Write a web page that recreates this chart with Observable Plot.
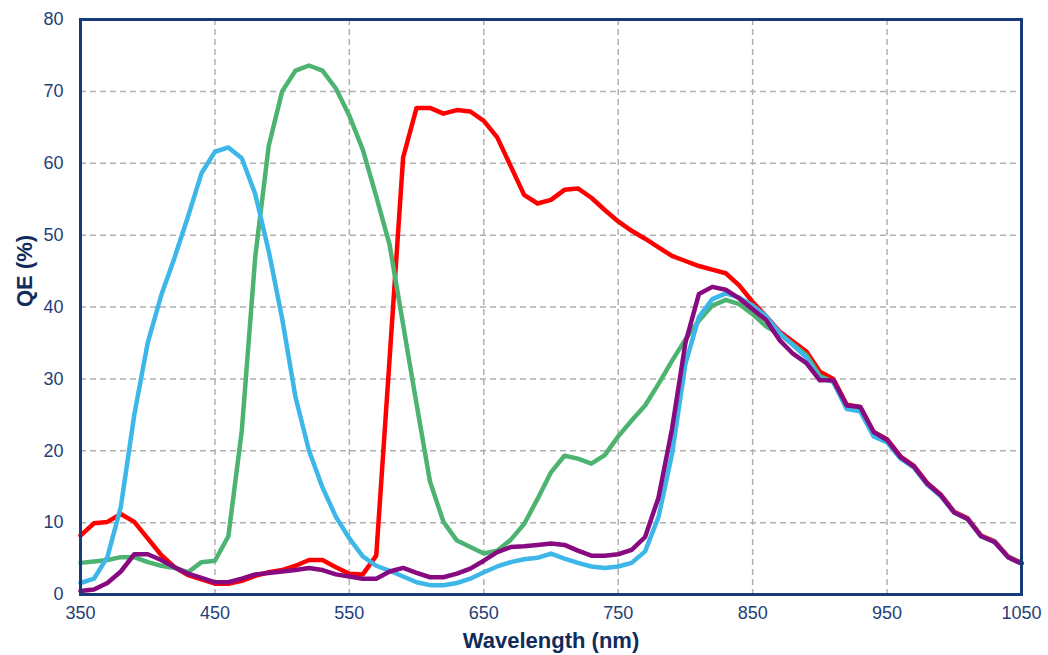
<!DOCTYPE html>
<html>
<head>
<meta charset="utf-8">
<script src="https://cdn.jsdelivr.net/npm/d3@7"></script>
<script src="https://cdn.jsdelivr.net/npm/@observablehq/plot@0.6"></script>
<style>
  html, body { margin: 0; padding: 0; background: #fff; }
  #chart svg { display: block; }
</style>
</head>
<body>
<div id="chart"></div>
<script>
const wavelengths = [350,360,370,380,390,400,410,420,430,440,450,460,470,480,490,500,510,520,530,540,550,560,570,580,590,600,610,620,630,640,650,660,670,680,690,700,710,720,730,740,750,760,770,780,790,800,810,820,830,840,850,860,870,880,890,900,910,920,930,940,950,960,970,980,990,1000,1010,1020,1030,1040,1050];

const red = [8.2,9.9,10.1,11.2,10.1,7.8,5.5,3.8,2.7,2.1,1.5,1.5,1.9,2.6,3.1,3.4,4.0,4.8,4.8,3.8,2.9,2.8,5.4,33,60.8,67.7,67.7,66.9,67.4,67.2,65.9,63.6,59.6,55.6,54.4,54.9,56.3,56.5,55.2,53.5,51.9,50.6,49.5,48.3,47.1,46.4,45.7,45.2,44.7,43.0,40.7,38.7,36.6,35.2,33.8,31.0,30.0,26.4,26.1,22.6,21.6,19.2,17.9,15.5,13.9,11.5,10.6,8.2,7.4,5.3,4.4];

const green = [4.4,4.6,4.8,5.2,5.2,4.5,4.0,3.7,3.1,4.5,4.7,8.1,22.8,47.0,62.4,70.0,72.9,73.6,72.9,70.4,66.6,61.9,55.4,48.6,37.5,26.5,15.7,10.1,7.5,6.6,5.7,6.1,7.6,9.8,13.3,17.0,19.3,18.9,18.2,19.4,22.0,24.2,26.3,29.3,32.5,35.5,38.1,40.2,41.0,40.4,39.0,37.3,36.2,34.8,33.3,30.4,29.6,25.9,25.6,22.1,21.2,19.0,17.7,15.3,13.7,11.4,10.5,8.1,7.3,5.2,4.3];

const blue = [1.6,2.2,5.2,12.2,25.0,35.0,41.6,46.9,52.6,58.6,61.6,62.2,60.7,55.7,47.8,38.4,27.4,20.0,14.9,10.8,7.8,5.3,4.0,3.3,2.5,1.7,1.3,1.3,1.6,2.2,3.1,3.9,4.5,4.9,5.1,5.7,5.0,4.4,3.9,3.7,3.9,4.4,6.0,10.8,19.5,32.1,38.6,41.1,41.9,41.3,40.2,38.7,36.4,34.7,33.0,30.1,29.6,25.8,25.5,22.0,21.2,18.9,17.7,15.3,13.7,11.4,10.5,8.1,7.3,5.2,4.3];

const purple = [0.5,0.7,1.6,3.2,5.6,5.6,4.8,3.8,2.9,2.3,1.7,1.7,2.2,2.8,3.0,3.2,3.4,3.7,3.4,2.8,2.5,2.2,2.2,3.2,3.7,3.0,2.4,2.4,2.9,3.6,4.7,5.9,6.6,6.7,6.9,7.1,6.9,6.1,5.4,5.4,5.6,6.2,8.0,13.5,23.0,35.0,41.8,42.8,42.4,41.2,39.7,38.2,35.4,33.5,32.2,29.8,29.8,26.3,26.1,22.6,21.5,19.1,17.8,15.4,13.8,11.4,10.5,8.1,7.3,5.2,4.3];

const xTicks = [350,450,550,650,750,850,950,1050];
const yTicks = [0,10,20,30,40,50,60,70,80];
const xTitle = "Wavelength (nm)";
const yTitle = "QE (%)";

const series = [
  {name: "red", values: red, color: "#ff0000"},
  {name: "green", values: green, color: "#4cb470"},
  {name: "blue", values: blue, color: "#3db6e8"},
  {name: "purple", values: purple, color: "#880a80"}
];

const toRows = (vals) => wavelengths.map((w, i) => ({w, v: vals[i]}));

const tickColor = "#1f4079";
const titleColor = "#112c5a";
const frameColor = "#173b78";

const chart = Plot.plot({
  width: 1048,
  height: 655,
  marginLeft: 80,
  marginRight: 27,
  marginTop: 19,
  marginBottom: 61,
  style: {fontFamily: "'Liberation Sans', Arial, sans-serif", background: "#fff"},
  x: {domain: [350, 1050]},
  y: {domain: [0, 80]},
  marks: [
    Plot.gridX(xTicks.slice(1, -1), {stroke: "#b0b0b0", strokeOpacity: 1, strokeWidth: 1.5, strokeDasharray: "6,4"}),
    Plot.gridY(yTicks.slice(1, -1), {stroke: "#b0b0b0", strokeOpacity: 1, strokeWidth: 1.5, strokeDasharray: "6,4"}),
    ...series.map(s => Plot.line(toRows(s.values), {x: "w", y: "v", stroke: s.color, strokeWidth: 4.5, strokeLinejoin: "round", strokeLinecap: "round"})),
    Plot.axisX(xTicks, {tickSize: 0, tickPadding: 12, fontSize: 18, fill: tickColor, label: null, tickFormat: d => String(d)}),
    Plot.axisY(yTicks, {tickSize: 0, tickPadding: 17, fontSize: 18, fill: tickColor, label: null, tickFormat: d => String(d)}),
    Plot.frame({stroke: frameColor, strokeWidth: 3}),
    Plot.text([xTitle], {frameAnchor: "bottom", dy: 46, fontSize: 22, fontWeight: "bold", fill: titleColor, lineAnchor: "middle"}),
    Plot.text([yTitle], {frameAnchor: "left", dx: -56, rotate: -90, fontSize: 22, fontWeight: "bold", fill: titleColor, lineAnchor: "middle"})
  ]
});

document.getElementById("chart").appendChild(chart);
</script>
</body>
</html>
